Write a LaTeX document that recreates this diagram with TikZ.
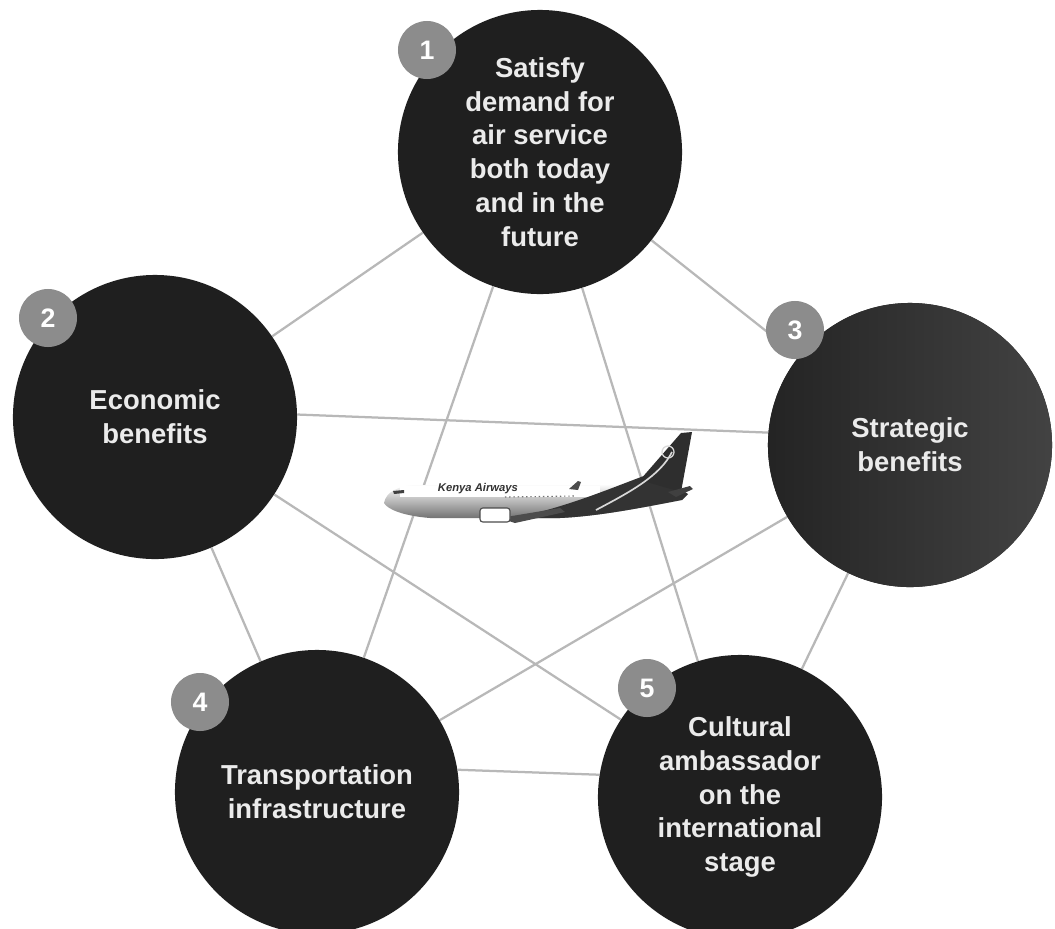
\documentclass[tikz,border=0pt]{standalone}
\usepackage{fontspec}
\setmainfont{Liberation Sans}
\usetikzlibrary{backgrounds}

\begin{document}
\begin{tikzpicture}[
	x=0.025cm, y=-0.025cm,
	goal/.style={circle, fill=black!88, minimum size=7.1cm, inner sep=0pt,
		text=black!8, align=center,
		font=\bfseries\fontsize{19.5}{24}\selectfont},
	badge/.style={circle, fill=black!45, minimum size=1.45cm, inner sep=0pt,
		text=white, font=\bfseries\fontsize{19}{22}\selectfont},
	link/.style={draw=black!28, line width=1.6pt},
	]
	\useasboundingbox (0,0) rectangle (1055,929);
	
	% the five goals
	\node [goal] (demand) at (540,152) {Satisfy\\demand for\\air service\\both today\\and in the\\future};
	\node [goal] (economic) at (155,417) {Economic\\benefits};
	\node [goal, left color=black!86, right color=black!74] (strategic) at (910,445) {Strategic\\benefits};
	\node [goal] (transport) at (317,792) {Transportation\\infrastructure};
	\node [goal] (cultural) at (740,797) {Cultural\\ambassador\\on the\\international\\stage};
	
	\node [badge] (n1) at (427,50) {1};
	\node [badge] (n2) at (48,318) {2};
	\node [badge] (n3) at (795,330) {3};
	\node [badge] (n4) at (200,702) {4};
	\node [badge] (n5) at (647,688) {5};
	
	\begin{pgfonlayer}{background}
		\fill [white] (0,0) rectangle (1055,929);
		% every goal linked to every other
		\draw [link] (demand) -- (economic);
		\draw [link] (demand) -- (strategic);
		\draw [link] (demand) -- (transport);
		\draw [link] (demand) -- (cultural);
		\draw [link] (economic.1) -- (strategic.175);
		\draw [link] (economic) -- (transport);
		\draw [link] (economic) -- (cultural);
		\draw [link] (strategic) -- (transport);
		\draw [link] (strategic) -- (cultural);
		\draw [link] (transport.9) -- (cultural.171);
	\end{pgfonlayer}
	
	% aircraft in the middle
	\shade [top color=white, bottom color=black!55]
	(384,503) .. controls (386,492) and (398,486) .. (415,485) -- (620,485)
	.. controls (650,484) and (670,488) .. (688,494) -- (682,500)
	.. controls (640,508) and (600,516) .. (560,518) -- (430,518)
	.. controls (405,516) and (388,510) .. (384,503) -- cycle;
	\fill [white] (400,486) rectangle (600,497);
	\fill [black!80] (515,518) .. controls (575,505) and (620,484) .. (655,472)
	-- (688,494) -- (682,500) .. controls (640,508) and (600,516) .. (560,518) -- cycle;
	\fill [black!82] (640,480) -- (681,433) -- (692,432) -- (681,492) -- cycle;
	\draw [black!15, line width=1.2pt] (596,510) .. controls (630,492) and (660,476) .. (672,452);
	\draw [black!15, line width=0.9pt] (668,452) circle (6);
	\fill [black!75] (668,492) -- (690,486) -- (693,489) -- (676,497) -- cycle;
	\fill [black!70] (569,489) -- (578,481) -- (581,482) -- (578,490) -- cycle;
	\fill [black!70] (500,518) -- (560,508) -- (565,512) -- (515,523) -- cycle;
	\filldraw [fill=white, draw=black!70, line width=0.8pt, rounded corners=2pt]
	(480,508) rectangle (510,522);
	\fill [black!75] (393,491) -- (404,490) -- (404,493) -- (394,494) -- cycle;
	\draw [black!55, line width=0.8pt, dash pattern=on 1pt off 2pt] (505,497) -- (575,496);
	\node [font=\bfseries\itshape\fontsize{8}{9}\selectfont, text=black!80] (airline) at (478,489) {Kenya Airways};
\end{tikzpicture}
\end{document}
